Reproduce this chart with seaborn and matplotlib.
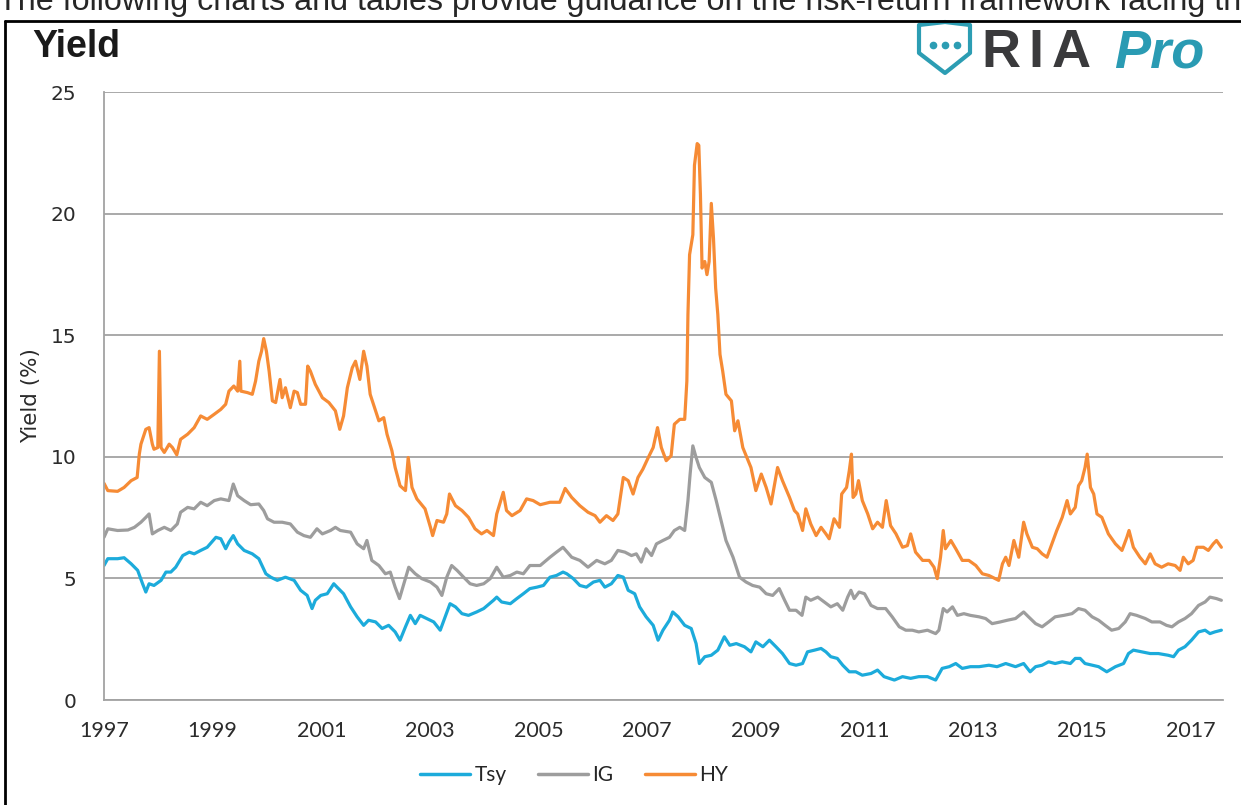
"""
Yield chart
===========

Treasury, investment grade and high yield yields, 1997-2017.
"""

import matplotlib.pyplot as plt
import pandas as pd
import seaborn as sns
from matplotlib.lines import Line2D
from matplotlib.patches import Polygon

# values: decimal year, yield in %
tsy_year = [
    1997.00, 1997.07, 1997.25, 1997.37, 1997.50, 1997.62, 1997.71, 1997.77, 1997.83, 1997.92,
    1998.05, 1998.14, 1998.23, 1998.32, 1998.45, 1998.57, 1998.66, 1998.78, 1998.90, 1999.06,
    1999.15, 1999.24, 1999.30, 1999.38, 1999.46, 1999.58, 1999.73, 1999.85, 1999.98, 2000.07,
    2000.19, 2000.34, 2000.50, 2000.62, 2000.74, 2000.83, 2000.89, 2000.99, 2001.11, 2001.23,
    2001.29, 2001.41, 2001.54, 2001.66, 2001.78, 2001.87, 2002.00, 2002.12, 2002.24, 2002.36,
    2002.45, 2002.55, 2002.64, 2002.73, 2002.82, 2002.94, 2003.07, 2003.19, 2003.28, 2003.37,
    2003.47, 2003.59, 2003.71, 2003.86, 2003.99, 2004.17, 2004.23, 2004.32, 2004.48, 2004.60,
    2004.72, 2004.84, 2004.97, 2005.09, 2005.21, 2005.33, 2005.45, 2005.52, 2005.64, 2005.76,
    2005.88, 2006.01, 2006.13, 2006.22, 2006.34, 2006.46, 2006.56, 2006.65, 2006.77, 2006.86,
    2006.98, 2007.11, 2007.20, 2007.29, 2007.41, 2007.47, 2007.57, 2007.69, 2007.81, 2007.90,
    2007.96, 2008.06, 2008.18, 2008.30, 2008.42, 2008.52, 2008.64, 2008.79, 2008.91, 2009.00,
    2009.13, 2009.25, 2009.37, 2009.49, 2009.62, 2009.74, 2009.86, 2009.95, 2010.08, 2010.20,
    2010.29, 2010.38, 2010.50, 2010.60, 2010.72, 2010.84, 2010.96, 2011.12, 2011.24, 2011.36,
    2011.55, 2011.70, 2011.85, 2012.00, 2012.16, 2012.31, 2012.43, 2012.56, 2012.68, 2012.80,
    2012.95, 2013.11, 2013.29, 2013.44, 2013.60, 2013.78, 2013.93, 2014.05, 2014.15, 2014.27,
    2014.39, 2014.51, 2014.64, 2014.79, 2014.88, 2014.97, 2015.06, 2015.19, 2015.31, 2015.46,
    2015.62, 2015.77, 2015.86, 2015.95, 2016.11, 2016.26, 2016.41, 2016.59, 2016.69, 2016.78,
    2016.90, 2017.02, 2017.15, 2017.27, 2017.36, 2017.45, 2017.57,
]
tsy_yield = [
    5.53, 5.81, 5.81, 5.85, 5.60, 5.33, 4.78, 4.44, 4.78, 4.71,
    4.92, 5.26, 5.26, 5.46, 5.94, 6.08, 6.01, 6.15, 6.28, 6.69,
    6.63, 6.22, 6.49, 6.76, 6.42, 6.15, 6.01, 5.81, 5.19, 5.05,
    4.92, 5.05, 4.92, 4.51, 4.30, 3.76, 4.10, 4.30, 4.37, 4.78,
    4.64, 4.37, 3.83, 3.42, 3.07, 3.28, 3.21, 2.94, 3.07, 2.80,
    2.46, 3.01, 3.48, 3.14, 3.48, 3.35, 3.21, 2.87, 3.42, 3.96,
    3.83, 3.55, 3.48, 3.62, 3.76, 4.10, 4.23, 4.03, 3.96, 4.17,
    4.37, 4.58, 4.64, 4.71, 5.05, 5.12, 5.26, 5.19, 4.99, 4.71,
    4.64, 4.85, 4.92, 4.64, 4.78, 5.12, 5.05, 4.51, 4.37, 3.83,
    3.42, 3.07, 2.46, 2.87, 3.28, 3.62, 3.42, 3.07, 2.94, 2.32,
    1.50, 1.78, 1.84, 2.05, 2.60, 2.25, 2.32, 2.19, 1.98, 2.39,
    2.19, 2.46, 2.19, 1.91, 1.50, 1.43, 1.50, 1.98, 2.05, 2.12,
    1.98, 1.78, 1.71, 1.43, 1.16, 1.16, 1.02, 1.09, 1.23, 0.96,
    0.82, 0.96, 0.89, 0.96, 0.96, 0.82, 1.30, 1.37, 1.50, 1.30,
    1.37, 1.37, 1.43, 1.37, 1.50, 1.37, 1.50, 1.16, 1.37, 1.43,
    1.57, 1.50, 1.57, 1.50, 1.71, 1.71, 1.50, 1.43, 1.37, 1.16,
    1.37, 1.50, 1.91, 2.05, 1.98, 1.91, 1.91, 1.84, 1.78, 2.05,
    2.19, 2.46, 2.80, 2.87, 2.73, 2.80, 2.87,
]

ig_year = [
    1997.00, 1997.07, 1997.25, 1997.44, 1997.56, 1997.68, 1997.77, 1997.83, 1997.89, 1997.99,
    1998.11, 1998.23, 1998.35, 1998.41, 1998.54, 1998.66, 1998.78, 1998.90, 1999.03, 1999.15,
    1999.30, 1999.38, 1999.46, 1999.58, 1999.70, 1999.85, 1999.94, 2000.01, 2000.13, 2000.28,
    2000.43, 2000.56, 2000.68, 2000.80, 2000.92, 2001.02, 2001.17, 2001.26, 2001.35, 2001.54,
    2001.66, 2001.78, 2001.84, 2001.93, 2002.06, 2002.18, 2002.27, 2002.36, 2002.44, 2002.52,
    2002.61, 2002.73, 2002.85, 2003.01, 2003.13, 2003.22, 2003.31, 2003.40, 2003.50, 2003.62,
    2003.74, 2003.86, 2003.99, 2004.11, 2004.23, 2004.35, 2004.48, 2004.60, 2004.72, 2004.84,
    2005.03, 2005.21, 2005.33, 2005.45, 2005.61, 2005.76, 2005.91, 2006.07, 2006.22, 2006.34,
    2006.46, 2006.59, 2006.71, 2006.80, 2006.89, 2006.98, 2007.08, 2007.17, 2007.29, 2007.41,
    2007.50, 2007.60, 2007.69, 2007.75, 2007.79, 2007.84, 2007.90, 2007.96, 2008.06, 2008.18,
    2008.27, 2008.36, 2008.45, 2008.58, 2008.70, 2008.82, 2008.94, 2009.07, 2009.19, 2009.31,
    2009.43, 2009.53, 2009.62, 2009.74, 2009.85, 2009.92, 2010.01, 2010.14, 2010.26, 2010.38,
    2010.50, 2010.60, 2010.69, 2010.75, 2010.81, 2010.90, 2011.00, 2011.12, 2011.24, 2011.39,
    2011.51, 2011.64, 2011.76, 2011.88, 2012.00, 2012.16, 2012.31, 2012.37, 2012.45, 2012.52,
    2012.62, 2012.71, 2012.83, 2012.95, 2013.11, 2013.23, 2013.35, 2013.50, 2013.63, 2013.78,
    2013.93, 2014.02, 2014.15, 2014.27, 2014.39, 2014.51, 2014.67, 2014.82, 2014.94, 2015.06,
    2015.19, 2015.31, 2015.43, 2015.55, 2015.68, 2015.80, 2015.89, 2016.01, 2016.17, 2016.29,
    2016.44, 2016.56, 2016.66, 2016.78, 2016.90, 2017.02, 2017.15, 2017.27, 2017.36, 2017.48,
    2017.57,
]
ig_yield = [
    6.69, 7.04, 6.97, 6.99, 7.10, 7.31, 7.51, 7.65, 6.83, 6.97,
    7.10, 6.97, 7.24, 7.72, 7.92, 7.86, 8.13, 7.99, 8.20, 8.27,
    8.20, 8.88, 8.40, 8.20, 8.03, 8.06, 7.79, 7.45, 7.31, 7.31,
    7.24, 6.90, 6.76, 6.69, 7.04, 6.83, 6.97, 7.10, 6.97, 6.90,
    6.42, 6.22, 6.56, 5.74, 5.53, 5.19, 5.26, 4.64, 4.17, 4.78,
    5.46, 5.19, 4.99, 4.85, 4.64, 4.30, 5.05, 5.53, 5.33, 5.05,
    4.78, 4.71, 4.78, 4.99, 5.46, 5.05, 5.12, 5.26, 5.19, 5.53,
    5.53, 5.87, 6.08, 6.28, 5.87, 5.74, 5.46, 5.74, 5.60, 5.74,
    6.15, 6.08, 5.94, 6.01, 5.67, 6.22, 5.94, 6.42, 6.56, 6.69,
    6.97, 7.10, 6.97, 8.20, 9.29, 10.45, 9.97, 9.56, 9.15, 8.95,
    8.20, 7.38, 6.56, 5.87, 5.05, 4.85, 4.71, 4.64, 4.37, 4.30,
    4.58, 4.10, 3.69, 3.69, 3.48, 4.23, 4.10, 4.23, 4.03, 3.83,
    3.96, 3.69, 4.23, 4.51, 4.17, 4.44, 4.37, 3.89, 3.76, 3.76,
    3.42, 3.01, 2.87, 2.87, 2.80, 2.87, 2.73, 2.87, 3.76, 3.62,
    3.83, 3.48, 3.55, 3.48, 3.42, 3.35, 3.14, 3.21, 3.28, 3.35,
    3.62, 3.42, 3.14, 3.01, 3.21, 3.42, 3.48, 3.55, 3.76, 3.69,
    3.42, 3.28, 3.07, 2.87, 2.94, 3.21, 3.55, 3.48, 3.35, 3.21,
    3.21, 3.07, 3.01, 3.21, 3.35, 3.55, 3.89, 4.03, 4.23, 4.17,
    4.10,
]

hy_year = [
    1997.00, 1997.07, 1997.25, 1997.37, 1997.50, 1997.61, 1997.65, 1997.68, 1997.77, 1997.83,
    1997.89, 1997.92, 1997.99, 1998.02, 1998.05, 1998.11, 1998.20, 1998.26, 1998.34, 1998.41,
    1998.54, 1998.66, 1998.78, 1998.90, 1999.03, 1999.15, 1999.24, 1999.30, 1999.39, 1999.46,
    1999.50, 1999.52, 1999.64, 1999.73, 1999.79, 1999.85, 1999.90, 1999.94, 1999.99, 2000.04,
    2000.10, 2000.16, 2000.24, 2000.28, 2000.34, 2000.43, 2000.50, 2000.56, 2000.62, 2000.71,
    2000.75, 2000.80, 2000.89, 2001.02, 2001.14, 2001.26, 2001.34, 2001.41, 2001.48, 2001.57,
    2001.63, 2001.71, 2001.78, 2001.84, 2001.90, 2002.00, 2002.06, 2002.15, 2002.21, 2002.30,
    2002.36, 2002.45, 2002.55, 2002.60, 2002.67, 2002.76, 2002.91, 2003.01, 2003.05, 2003.13,
    2003.25, 2003.31, 2003.36, 2003.47, 2003.59, 2003.71, 2003.83, 2003.95, 2004.05, 2004.17,
    2004.23, 2004.35, 2004.41, 2004.51, 2004.66, 2004.78, 2004.90, 2005.03, 2005.21, 2005.39,
    2005.49, 2005.61, 2005.76, 2005.91, 2006.04, 2006.13, 2006.25, 2006.37, 2006.46, 2006.56,
    2006.65, 2006.74, 2006.83, 2006.92, 2007.02, 2007.11, 2007.19, 2007.26, 2007.35, 2007.44,
    2007.50, 2007.60, 2007.69, 2007.73, 2007.75, 2007.78, 2007.84, 2007.87, 2007.92, 2007.95,
    2007.98, 2008.01, 2008.06, 2008.10, 2008.14, 2008.18, 2008.22, 2008.26, 2008.30, 2008.34,
    2008.39, 2008.45, 2008.55, 2008.61, 2008.67, 2008.76, 2008.91, 2009.00, 2009.10, 2009.19,
    2009.28, 2009.40, 2009.49, 2009.62, 2009.71, 2009.77, 2009.86, 2009.92, 2010.01, 2010.11,
    2010.20, 2010.29, 2010.35, 2010.44, 2010.54, 2010.58, 2010.67, 2010.72, 2010.76, 2010.79,
    2010.84, 2010.89, 2010.96, 2011.06, 2011.15, 2011.24, 2011.33, 2011.40, 2011.48, 2011.58,
    2011.70, 2011.79, 2011.85, 2011.94, 2012.07, 2012.19, 2012.28, 2012.34, 2012.40, 2012.45,
    2012.49, 2012.59, 2012.68, 2012.80, 2012.92, 2013.05, 2013.17, 2013.29, 2013.41, 2013.47,
    2013.54, 2013.60, 2013.66, 2013.75, 2013.84, 2013.93, 2013.99, 2014.09, 2014.18, 2014.27,
    2014.36, 2014.45, 2014.54, 2014.64, 2014.73, 2014.79, 2014.88, 2014.94, 2015.00, 2015.06,
    2015.10, 2015.16, 2015.22, 2015.28, 2015.37, 2015.49, 2015.62, 2015.74, 2015.83, 2015.87,
    2015.95, 2016.07, 2016.17, 2016.26, 2016.35, 2016.47, 2016.59, 2016.72, 2016.81, 2016.87,
    2016.96, 2017.05, 2017.12, 2017.24, 2017.33, 2017.42, 2017.48, 2017.57,
]
hy_yield = [
    8.91, 8.61, 8.58, 8.74, 9.02, 9.15, 10.11, 10.52, 11.13, 11.20,
    10.52, 10.31, 10.38, 14.34, 10.38, 10.18, 10.52, 10.38, 10.08, 10.72,
    10.93, 11.20, 11.68, 11.54, 11.75, 11.95, 12.16, 12.70, 12.91, 12.70,
    13.93, 12.70, 12.64, 12.57, 13.11, 13.93, 14.34, 14.86, 14.34, 13.52,
    12.30, 12.23, 13.18, 12.43, 12.84, 12.02, 12.70, 12.64, 12.16, 12.16,
    13.73, 13.52, 12.98, 12.43, 12.23, 11.89, 11.13, 11.68, 12.84, 13.66,
    13.93, 13.18, 14.34, 13.73, 12.57, 11.89, 11.48, 11.61, 10.93, 10.25,
    9.56, 8.81, 8.61, 9.97, 8.74, 8.27, 7.86, 7.10, 6.76, 7.38,
    7.31, 7.65, 8.47, 7.99, 7.79, 7.51, 7.04, 6.83, 6.97, 6.76,
    7.65, 8.54, 7.79, 7.58, 7.79, 8.27, 8.20, 8.03, 8.13, 8.13,
    8.70, 8.33, 7.99, 7.72, 7.58, 7.31, 7.58, 7.38, 7.65, 9.15,
    9.02, 8.47, 9.15, 9.49, 9.97, 10.38, 11.20, 10.38, 9.84, 10.04,
    11.34, 11.54, 11.54, 13.11, 15.85, 18.31, 19.13, 21.99, 22.88, 22.81,
    20.77, 17.76, 18.03, 17.49, 18.03, 20.42, 18.99, 16.94, 15.85, 14.21,
    13.52, 12.57, 12.30, 11.07, 11.48, 10.38, 9.56, 8.61, 9.29, 8.74,
    8.06, 9.56, 9.02, 8.33, 7.79, 7.65, 6.97, 7.86, 7.24, 6.76,
    7.10, 6.83, 6.63, 7.45, 7.10, 8.47, 8.74, 9.43, 10.11, 8.33,
    8.47, 9.02, 8.20, 7.65, 7.04, 7.31, 7.10, 8.20, 7.17, 6.83,
    6.28, 6.35, 6.83, 6.08, 5.74, 5.74, 5.46, 4.99, 5.87, 6.97,
    6.22, 6.56, 6.22, 5.74, 5.74, 5.53, 5.19, 5.12, 4.99, 4.92,
    5.60, 5.87, 5.53, 6.56, 5.87, 7.31, 6.83, 6.28, 6.22, 6.01,
    5.87, 6.42, 6.97, 7.51, 8.20, 7.65, 7.92, 8.81, 9.02, 9.56,
    10.11, 8.74, 8.47, 7.65, 7.51, 6.83, 6.42, 6.15, 6.69, 6.97,
    6.28, 5.87, 5.60, 6.01, 5.60, 5.46, 5.60, 5.53, 5.33, 5.87,
    5.60, 5.74, 6.28, 6.28, 6.15, 6.42, 6.56, 6.28,
]

series_names = ['Tsy', 'IG', 'HY']
year_ticks = list(range(1997, 2018, 2))
yield_ticks = [0, 5, 10, 15, 20, 25]

COLORS = {'Tsy': '#1CABDB', 'IG': '#9D9D9D', 'HY': '#F68B35'}
GRID = '#A3A3A3'
W, H = 1241, 805


def px(x, y):
    """Pixel position (from top-left) to figure fraction."""
    return x / W, 1 - y / H


def build_frame():
    """Long-form table for seaborn."""
    parts = [
        pd.DataFrame({'year': tsy_year, 'yield': tsy_yield, 'series': 'Tsy'}),
        pd.DataFrame({'year': ig_year, 'yield': ig_yield, 'series': 'IG'}),
        pd.DataFrame({'year': hy_year, 'yield': hy_yield, 'series': 'HY'}),
    ]
    return pd.concat(parts, ignore_index=True)


def draw_header(fig):
    """Cut-off page text, frame, title and logo."""
    # the page text runs off the top and right edge in the screenshot
    fig.text(-0.002, px(0, 10)[1],
             'The following charts and tables provide guidance on the '
             'risk-return framework facing the',
             fontsize=23.2, family='Liberation Sans', va='baseline', ha='left')

    x0, y0 = px(5, 21)
    fig.add_artist(Line2D([x0, x0], [0, y0], color='black', lw=2))
    fig.add_artist(Line2D([x0, 1.0], [y0, y0], color='black', lw=2))

    fig.text(*px(32, 57), 'Yield', fontsize=27, fontweight='bold',
             family='Liberation Sans', color='#1a1a1a', va='baseline')

    # shield icon
    shield = [px(919, 25), px(945, 22), px(970, 25), px(970, 53),
              px(945, 73), px(919, 53)]
    fig.add_artist(Polygon(shield, closed=True, fill=False, edgecolor='#2C9DB3',
                           lw=3, joinstyle='round', transform=fig.transFigure))
    for dx in (933, 945, 957):
        fig.add_artist(Line2D([dx / W], [px(0, 45)[1]], marker='o', ms=4.5,
                              color='#2C9DB3', lw=0))

    for letter, x in (('R', 981), ('I', 1028), ('A', 1052)):
        fig.text(*px(x, 67), letter, fontsize=39, family='Liberation Sans',
                 fontweight='bold', color='#3A3A3C', va='baseline')
    fig.text(*px(1114, 67), 'Pro', fontsize=39, family='Liberation Sans',
             fontweight='bold', style='italic', color='#2A9BB3', va='baseline')


def main():
    sns.set_style('white')
    plt.rcParams['font.family'] = ['DejaVu Sans']

    fig = plt.figure(figsize=(W / 100, H / 100), dpi=100, facecolor='white')
    left, bottom = px(104, 700)
    ax = fig.add_axes([left, bottom, 1119 / W, 608 / H])

    df = build_frame()
    sns.lineplot(data=df, x='year', y='yield', hue='series', hue_order=series_names,
                 palette=COLORS, estimator=None, linewidth=2.3, legend=False, ax=ax)

    ax.set_xlim(1997, 2017.6)
    ax.set_ylim(0, 25)
    ax.set_xticks(year_ticks)
    ax.set_xticklabels([str(y) for y in year_ticks])
    ax.set_yticks(yield_ticks)
    ax.set_xlabel('')

    ax.yaxis.grid(True, color=GRID, linewidth=1.3)
    ax.xaxis.grid(False)
    for side in ('top', 'right'):
        ax.spines[side].set_visible(False)
    for side in ('left', 'bottom'):
        ax.spines[side].set_color(GRID)
        ax.spines[side].set_linewidth(1.3)

    ax.tick_params(axis='x', direction='out', length=7, width=1.3, color=GRID,
                   pad=8, labelsize=15.5, labelcolor='#2b2b2b')
    ax.tick_params(axis='y', length=0, pad=20, labelsize=14.5, labelcolor='#2b2b2b')
    for lbl in ax.get_xticklabels():
        lbl.set_fontfamily('Lato')

    ax.set_ylabel('Yield (%)', fontsize=15.5, color='#2b2b2b')
    ax.yaxis.set_label_coords((41 - 104) / 1119, 0.5)

    handles = [Line2D([], [], color=COLORS[s], lw=2.5) for s in series_names]
    ax.legend(handles, series_names, loc='center', bbox_to_anchor=px(574, 775),
              bbox_transform=fig.transFigure, ncol=3, frameon=False,
              handlelength=2.4, handletextpad=0.2, columnspacing=1.5,
              prop={'family': 'Lato', 'size': 15})

    draw_header(fig)
    fig.savefig('out.png', dpi=100, facecolor='white')
    plt.close(fig)


if __name__ == '__main__':
    main()
